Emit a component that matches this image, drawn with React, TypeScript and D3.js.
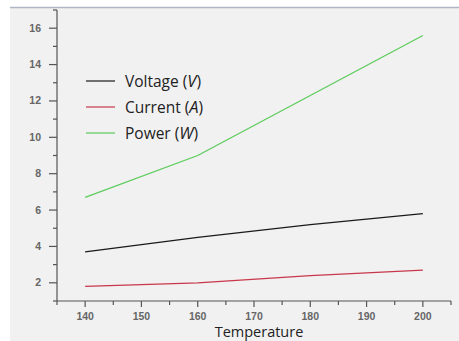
import React, { useRef, useEffect } from "react";
import * as d3 from "d3";

const temps = [140, 160, 180, 200];
const voltage = [3.7, 4.5, 5.2, 5.8];
const current = [1.8, 2.0, 2.4, 2.7];
const power = [6.7, 9.0, 12.3, 15.6];
const xTicks = [140, 150, 160, 170, 180, 190, 200];
const yTicks = [2, 4, 6, 8, 10, 12, 14, 16];

const series = [
  { name: "Voltage", unit: "V", values: voltage, color: "#1a1a1a" },
  { name: "Current", unit: "A", values: current, color: "#c8384a" },
  { name: "Power", unit: "W", values: power, color: "#5ccc5c" },
];

const W = 459;
const H = 341;

export default function App() {
  const svgRef = useRef<SVGSVGElement>(null);

  useEffect(() => {
    const svg = d3.select(svgRef.current);
    svg.selectAll("*").remove();

    const left = 57, right = 451, top = 10, bottom = 301;

    // page frame
    svg.append("rect").attr("width", W).attr("height", H).attr("fill", "#ffffff");
    svg.append("rect").attr("x", 10).attr("y", 7).attr("width", W - 10).attr("height", H - 7).attr("fill", "#f1f1f1");
    svg.append("line").attr("x1", 10).attr("x2", W).attr("y1", 7.5).attr("y2", 7.5)
      .attr("stroke", "#aeb6c4").attr("stroke-width", 1.5);

    const x = d3.scaleLinear().domain([135, 205]).range([left, right]);
    const y = d3.scaleLinear().domain([1, 17]).range([bottom, top]);

    const tickColor = "#555";

    // x axis
    const xg = svg.append("g").attr("transform", `translate(0,${bottom})`);
    xg.append("line").attr("x1", left).attr("x2", right).attr("stroke", tickColor).attr("stroke-width", 1.2);
    d3.range(135, 206, 5).forEach(v => {
      const major = xTicks.includes(v);
      xg.append("line").attr("x1", x(v)).attr("x2", x(v)).attr("y1", 0).attr("y2", major ? 6 : 4)
        .attr("stroke", tickColor).attr("stroke-width", 1.2);
    });
    xg.selectAll("text.tick").data(xTicks).join("text")
      .attr("x", d => x(d)).attr("y", 19).attr("text-anchor", "middle")
      .attr("font-family", "Liberation Sans, Arial, sans-serif").attr("font-size", 10.5)
      .attr("font-weight", "bold").attr("fill", "#666").text(d => d);

    // y axis
    const yg = svg.append("g").attr("transform", `translate(${left},0)`);
    yg.append("line").attr("y1", top).attr("y2", bottom).attr("stroke", tickColor).attr("stroke-width", 1.2);
    d3.range(1, 18, 1).forEach(v => {
      const major = yTicks.includes(v);
      yg.append("line").attr("x1", 0).attr("x2", major ? -8 : -4).attr("y1", y(v)).attr("y2", y(v))
        .attr("stroke", tickColor).attr("stroke-width", 1.2);
    });
    yg.selectAll("text.tick").data(yTicks).join("text")
      .attr("x", -16).attr("y", d => y(d) + 3.5).attr("text-anchor", "end")
      .attr("font-family", "Liberation Sans, Arial, sans-serif").attr("font-size", 10.5)
      .attr("font-weight", "bold").attr("fill", "#666").text(d => d);

    svg.append("text").attr("x", (left + right) / 2 + 5).attr("y", 337).attr("text-anchor", "middle")
      .attr("font-family", "Open Sans, sans-serif").attr("font-size", 14.5).attr("fill", "#222")
      .text("Temperature");

    // lines
    const line = d3.line<number>().x((_, i) => x(temps[i])).y(d => y(d));
    series.forEach(s => {
      svg.append("path").attr("d", line(s.values)).attr("fill", "none")
        .attr("stroke", s.color).attr("stroke-width", 1.3);
    });

    // legend
    series.forEach((s, i) => {
      const ly = 81 + i * 26;
      svg.append("line").attr("x1", 86).attr("x2", 115).attr("y1", ly).attr("y2", ly)
        .attr("stroke", s.color).attr("stroke-width", 1.2);
      const t = svg.append("text").attr("x", 125).attr("y", ly + 5.5)
        .attr("font-family", "Open Sans, sans-serif").attr("font-size", 15.5).attr("fill", "#222");
      t.append("tspan").text(`${s.name}\u00a0(`);
      t.append("tspan").attr("font-style", "italic").attr("font-size", 16.5).text(s.unit);
      t.append("tspan").text(")");
    });
  }, []);

  return (
    <svg ref={svgRef} width={W} height={H}
      style={{ position: "absolute", left: 0, top: 0, display: "block" }} />
  );
}
